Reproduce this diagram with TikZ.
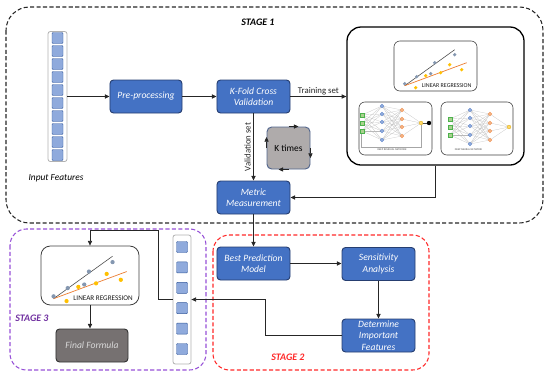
\documentclass[tikz,border=0pt]{standalone}
\usepackage{fontspec}
\setmainfont{Carlito}
\usepackage{xcolor}
\definecolor{boxblue}{RGB}{68,114,196}
\definecolor{boxline}{RGB}{38,62,112}
\definecolor{cellblue}{RGB}{143,170,220}
\definecolor{kgray}{RGB}{175,171,171}
\definecolor{formgray}{RGB}{118,113,113}
\definecolor{stagered}{RGB}{255,40,40}
\definecolor{stagepurple}{RGB}{112,48,160}
\definecolor{framepurple}{RGB}{150,80,215}
\definecolor{dotgray}{RGB}{132,151,176}
\definecolor{dotorange}{RGB}{255,192,0}
\definecolor{lineorange}{RGB}{237,125,49}
\definecolor{nngreen}{RGB}{169,209,142}
\definecolor{nnorange}{RGB}{244,177,131}
\definecolor{nnyellow}{RGB}{255,217,102}
\usepackage{tikz}
\usetikzlibrary{
    arrows.meta,
    positioning,
    calc
}

\begin{document}
\begin{tikzpicture}[
        x=0.03cm, y=-0.03cm,
        >={Triangle[length=4pt,width=3.6pt]},
        arr/.style={->, line width=0.6pt, black!85},
        stepbox/.style={rectangle, rounded corners=3pt, draw=boxline, line width=0.8pt, fill=boxblue, text=white, minimum width=2.19cm, minimum height=0.99cm, align=center, inner sep=1pt, font=\fontsize{8.2}{9.6}\selectfont\itshape},
        column/.style={rectangle, rounded corners=2pt, draw=gray!60, line width=0.7pt, fill=white},
        cell/.style={draw=boxblue!80!black, line width=0.4pt, fill=cellblue, rounded corners=0.8pt},
        inset/.style={rectangle, draw=black!75, line width=0.5pt, rounded corners=5pt, fill=white},
        frame/.style={dashed, dash pattern=on 3.5pt off 2pt, line width=0.9pt, rounded corners=#1},
        stagelabel/.style={font=\fontsize{8.5}{10}\selectfont\bfseries\itshape},
        plain/.style={font=\fontsize{7.5}{9}\selectfont, inner sep=1pt},
        nnline/.style={gray!55, line width=0.15pt},
        nnlabel/.style={font=\fontsize{2.3}{3}\selectfont, inner sep=0pt, text=black!70},
        lrplot/.pic={
            \draw[black!70, line width=0.5pt] (11,45) -- (61,9);
            \draw[lineorange, line width=0.6pt] (11,45) -- (73,22);
            \foreach \px/\py in {11/43,23/36,41/22,37/33,61/14}
                \fill[dotgray] (\px,\py) circle (1.8);
            \foreach \px/\py in {22/47,32/35,47/32,56/24,68/29}
                \fill[dotorange] (\px,\py) circle (1.8);
            \node[font=\fontsize{#1}{#1}\selectfont, inner sep=0pt, text=black!90] (-txt) at (53,45) {LINEAR REGRESSION};
        },
        nnet/.pic={
            \foreach \ga in {-8,0,8} \foreach \gb in {-17,-9,-1,8,17}
                \draw[nnline] (0,\ga) -- (20,\gb);
            \foreach \ga in {-17,-9,-1,8,17} \foreach \gb in {-13,-4,4,13}
                \draw[nnline] (20,\ga) -- (40,\gb);
            \foreach \ga in {-13,-4,4,13}
                \draw[nnline] (40,\ga) -- (59,0);
            \foreach \ga in {-8,0,8}
                \filldraw[fill=nngreen, draw=green!40!gray, line width=0.15pt] (-1.6,\ga-1.6) rectangle ++(3.2,3.2);
            \foreach \ga in {-17,-9,-1,8,17}
                \filldraw[fill=cellblue, draw=boxblue, line width=0.15pt] (20,\ga) circle (1.9);
            \foreach \ga in {-13,-4,4,13}
                \filldraw[fill=nnorange, draw=lineorange, line width=0.15pt] (40,\ga) circle (1.9);
            \filldraw[fill=nnyellow, draw=dotorange!80!black, line width=0.15pt] (59,0) circle (2);
        }
    ]
        \useasboundingbox (0,0) rectangle (550,379);

        % stage frames
        \draw[frame=20pt, black!85] (6,7) rectangle (543,223);
        \draw[frame=14pt, stagered] (213,235) rectangle (429,370);
        \draw[frame=14pt, framepurple] (10,229) rectangle (206,370);
        \node[stagelabel] (stageone) at (258,22) {STAGE 1};
        \node[stagelabel, text=stagered] (stagetwo) at (288,357) {STAGE 2};
        \node[stagelabel, text=stagepurple] (stagethree) at (32,318) {STAGE 3};

        % stage 1
        \node[column, minimum width=0.57cm, minimum height=3.9cm] (inputs) at (57.5,96.5) {};
        \foreach \i in {0,...,9}
            \draw[cell] (52,32.5+13*\i) rectangle ++(11,11);
        \node[plain, font=\fontsize{8}{9.5}\selectfont\itshape] (inputlabel) at (56,178) {Input Features};

        \node[stepbox, minimum width=2.16cm] (prep) at (146,96.5) {Pre-processing};
        \node[stepbox] (kfold) at (253.5,96.5) {K-Fold Cross\\Validation};
        \node[stepbox] (metric) at (253.5,197.5) {Metric\\Measurement};
        \node[rectangle, rounded corners=4pt, draw=boxline!80, line width=0.8pt, fill=kgray, minimum width=1.29cm, minimum height=1.26cm, font=\fontsize{8}{9.5}\selectfont] (ktimes) at (288.5,148) {K times};

        \node[draw, line width=1.1pt, rounded corners=12pt, minimum width=5.31cm, minimum height=4.14cm] (models) at (435.5,96) {};
        \node[inset, minimum width=2.49cm, minimum height=1.5cm] (lrone) at (435.5,66) {};
        \pic at (lrone.north west) {lrplot=5.1};
        \node[inset, minimum width=2.19cm, minimum height=1.59cm] (resnet) at (395.5,128.5) {};
        \draw[gray!70, line width=0.3pt] (361,131) -- (361,147) -- (421,147) -- (421,125);
        \draw[black!70, line width=0.3pt] (421,123) -- (429,123);
        \pic at (362,123) {nnet};
        \fill[black] (429,123) circle (2.2);
        \node[nnlabel] (reslabel) at (392,150) {DEEP RESIDUAL NETWORK};
        \node[inset, minimum width=2.16cm, minimum height=1.59cm] (dnn) at (477,128.5) {};
        \pic at (450,127) {nnet};
        \node[nnlabel] (dnnlabel) at (468.5,150) {DEEP NEURAL NETWORK};

        \draw[arr] (inputs.east) -- (prep.west);
        \draw[arr] (prep.east) -- (kfold.west);
        \draw[arr] (kfold.east) -- node[plain, above] {Training set} (kfold.east -| models.west);
        \draw[arr] (kfold.south) -- node[plain, rotate=90, anchor=south, yshift=1pt] {Validation set} (metric.north);
        \draw[arr] (models.south) |- (metric.east);

        % k times cycle
        \draw[arr] (ktimes.north) -- ++(10,0);
        \draw[arr] (ktimes.east) -- ++(0,10);
        \draw[arr] (ktimes.south) -- ++(-10,0);
        \draw[arr] (ktimes.west) -- ++(0,-11);

        % stage 2
        \node[stepbox] (best) at (253.5,263.5) {Best Prediction\\Model};
        \node[stepbox] (sens) at (378.5,264) {Sensitivity\\Analysis};
        \node[stepbox] (important) at (378.5,335.5) {Determine\\Important\\Features};

        \draw[arr] (metric.south) -- (best.north);
        \draw[arr] (best.east) -- (best.east -| sens.west);
        \draw[arr] (sens.south) -- (important.north);

        % stage 3
        \node[column, minimum width=0.54cm, minimum height=3.87cm] (selected) at (182,299.5) {};
        \foreach \i in {0,...,5}
            \draw[cell] (176.5,241.5+20.4*\i) rectangle ++(11,11);
        \node[inset, rounded corners=8pt, line width=0.7pt, minimum width=2.94cm, minimum height=1.77cm] (lrthree) at (90,275.5) {};
        \pic[scale=1.18] at (lrthree.north west) {lrplot=6.1};
        \node[stepbox, draw=black!80, fill=formgray, text=black!15, minimum width=2.16cm] (formula) at (92,345.5) {Final Formula};

        \draw[arr] (important.west) -- ++(-76,0) |- (selected.east);
        \draw[arr] (selected.west) -- ++(-14,0) -- ++(0,-69.5) -| (lrthree.north);
        \draw[arr] (lrthree.south) -- (lrthree.south |- formula.north);
\end{tikzpicture}
\end{document}
